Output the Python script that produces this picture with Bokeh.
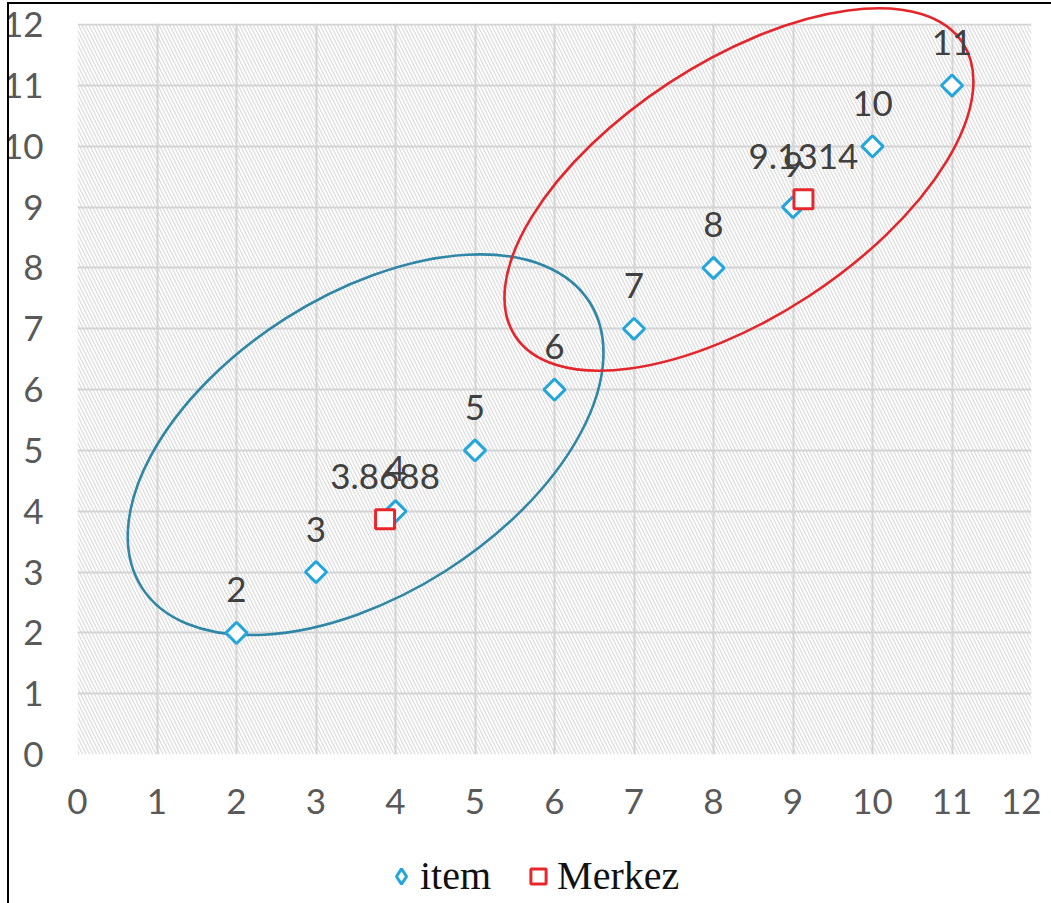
from bokeh.plotting import figure
from bokeh.layouts import column
from bokeh.models import (ColumnDataSource, LabelSet, Legend, LegendItem,
                          FixedTicker, Range1d, BoxAnnotation)
from bokeh.core.properties import value
from bokeh.embed import file_html
from bokeh.resources import INLINE

# --- data -------------------------------------------------------------
item_x = [2, 3, 4, 5, 6, 7, 8, 9, 10, 11]
item_y = [2, 3, 4, 5, 6, 7, 8, 9, 10, 11]
item_labels = ["2", "3", "4", "5", "6", "7", "8", "9", "10", "11"]

merkez_x = [3.8688, 9.1314]
merkez_y = [3.8688, 9.1314]
merkez_labels = ["3.8688", "9.1314"]

tick_values = list(range(0, 13))
axis_max = 12

# cluster outlines: centre (data units), full axes (px), tilt (deg)
cluster_cx = [3.624, 8.32]
cluster_cy = [5.094, 9.29]
cluster_w = [531, 535]
cluster_h = [299, 255]
cluster_angle = [32.5, 33.2]
cluster_colors = ["#2f86a6", "#e3262b"]

ITEM_COLOR = "#22a6dc"
MERKEZ_COLOR = "#e8262b"

FIG_W = 1052
BORDER_L = 75
BORDER_R = 10
SHIFT = (0, 0, 0, -10)

# --- main figure --------------------------------------------------------
# the frame reaches a little above 12 so the upper cluster outline is not cut;
# the strip above 12 is painted white again below
p = figure(width=FIG_W, height=836, output_backend="svg", toolbar_location=None,
           x_range=Range1d(0, axis_max), y_range=Range1d(0, 12.3),
           min_border_left=BORDER_L, min_border_right=BORDER_R, min_border_top=2,
           min_border_bottom=86, outline_line_color=None)
p.margin = SHIFT

# hatched plot area
p.add_layout(BoxAnnotation(left=0, right=axis_max, bottom=0, top=axis_max,
                           level="image", fill_color="white", fill_alpha=1.0,
                           line_color=None, hatch_pattern="\\",
                           hatch_color="#dedede", hatch_scale=7, hatch_weight=1.3))

for g in (p.xgrid, p.ygrid):
    g.grid_line_color = "#d4d4d4"
    g.grid_line_width = 2

# blank strip above the top grid line
p.add_layout(BoxAnnotation(bottom=axis_max + 0.02, level="underlay",
                           fill_color="white", fill_alpha=1.0, line_color=None))

for ax in (p.xaxis, p.yaxis):
    ax.ticker = FixedTicker(ticks=tick_values)
    ax.axis_line_color = None
    ax.major_tick_line_color = None
    ax.minor_tick_line_color = None
    ax.major_tick_out = 0
    ax.major_tick_in = 0
    ax.major_label_text_font = "Lato"
    ax.major_label_text_font_size = "35px"
    ax.major_label_text_color = "#595959"
p.xaxis.major_label_standoff = 34
p.yaxis.major_label_standoff = 34

# cluster ellipses
p.ellipse(x=cluster_cx, y=cluster_cy, width=cluster_w, height=cluster_h,
          angle=cluster_angle, angle_units="deg",
          width_units="screen", height_units="screen",
          fill_color=None, line_color=cluster_colors, line_width=2.6)

item_src = ColumnDataSource(dict(x=item_x, y=item_y, label=item_labels))
merkez_src = ColumnDataSource(dict(x=merkez_x, y=merkez_y, label=merkez_labels))

p.scatter("x", "y", source=item_src, marker="square", angle=0.7854,
          size=15, line_width=3, line_color=ITEM_COLOR, fill_color="white")
p.scatter("x", "y", source=merkez_src, marker="square",
          size=19, line_width=3, line_color=MERKEZ_COLOR, fill_color="white")

for src in (item_src, merkez_src):
    p.add_layout(LabelSet(x="x", y="y", text="label", source=src,
                          text_align="center", text_baseline="middle",
                          y_offset=43, text_font=value("Lato"),
                          text_font_size="35px", text_color="#404040"))

# --- legend strip ---------------------------------------------------------
# same series drawn on a 0..1 strip (so they stay out of sight) to feed the keys
leg = figure(width=FIG_W, height=63, output_backend="svg", toolbar_location=None,
             x_range=Range1d(0, 1), y_range=Range1d(0, 1),
             min_border_left=BORDER_L, min_border_right=BORDER_R,
             min_border_top=0, min_border_bottom=0, outline_line_color=None)
leg.margin = SHIFT
leg.axis.visible = False
leg.grid.visible = False
k_item = leg.scatter("x", "y", source=item_src, marker="diamond", size=20,
                     line_width=3, line_color=ITEM_COLOR, fill_color="white")
k_merkez = leg.scatter("x", "y", source=merkez_src, marker="square", size=19,
                       line_width=3, line_color=MERKEZ_COLOR, fill_color="white")
legend = Legend(items=[LegendItem(label="item", renderers=[k_item]),
                       LegendItem(label="Merkez", renderers=[k_merkez])],
                orientation="horizontal", location=(305, 4),
                label_text_font="Liberation Serif", label_text_font_size="40px",
                label_text_color="#111111", padding=4, margin=0,
                glyph_width=38, glyph_height=38, label_standoff=0, spacing=28,
                border_line_color=None, background_fill_alpha=0)
leg.add_layout(legend, "center")

page = column(p, leg, margin=(2, 0, 0, 7),
              styles={"border-left": "2px solid #000",
                      "border-top": "2px solid #000",
                      "overflow": "hidden"})

open("out.html", "w").write(file_html(page, INLINE))
